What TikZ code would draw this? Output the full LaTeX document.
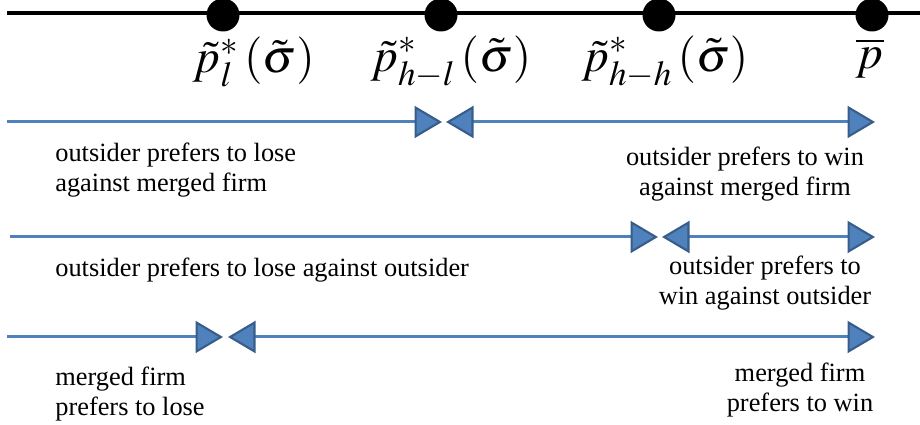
\documentclass[tikz,border=0pt]{standalone}
\usepackage{mathptmx}
\usepackage{fontspec}
\setmainfont{Liberation Serif}
\usepackage{xcolor}
\definecolor{prefblue}{RGB}{79,129,189}
\definecolor{prefdark}{RGB}{56,93,138}
\usetikzlibrary{arrows.meta}

\begin{document}
\begin{tikzpicture}[
  dot/.style={circle, fill=black, inner sep=0pt, minimum size=0.66cm},
  plabel/.style={font=\fontsize{27}{30}\selectfont, inner sep=0pt},
  pref/.style={draw=prefblue, line width=1.7pt},
  wedge/.tip={Triangle[length=0.55cm, width=0.64cm, fill=prefblue, color=prefdark, line width=1.2pt]},
  note/.style={font=\fontsize{15}{17}\selectfont, inner sep=0pt}
]
  \useasboundingbox (0,0) rectangle (18.4,8.5);

  % Price axis
  \coordinate (axisL) at (0.14,8.24);
  \coordinate (axisR) at (18.4,8.24);
  \draw[black, line width=2.3pt] (axisL) -- (axisR);
  \node[dot] (pl)  at (4.46,8.2) {};
  \node[dot] (phl) at (8.82,8.2) {};
  \node[dot] (phh) at (13.18,8.2) {};
  \node[dot] (pbar) at (17.44,8.2) {};
  \node[plabel] (lpl)  at (5.08,7.26) {$\tilde{p}^{*}_{l}\left(\tilde{\sigma}\right)$};
  \node[plabel] (lphl) at (9.02,7.26) {$\tilde{p}^{*}_{h-l}\left(\tilde{\sigma}\right)$};
  \node[plabel] (lphh) at (13.3,7.26) {$\tilde{p}^{*}_{h-h}\left(\tilde{\sigma}\right)$};
  \node[plabel] (lpbar) at (17.4,7.34) {$\overline{p}$};

  % --- Row 1: outsider vs merged firm ---
  \coordinate (r1s) at (0.14,6.06);
  \coordinate (r1m) at (8.84,6.06);
  \coordinate (r1n) at (8.92,6.06);
  \coordinate (r1e) at (17.5,6.06);
  \draw[pref, -wedge] (r1s) -- (r1m);
  \draw[pref, wedge-wedge] (r1n) -- (r1e);
  \node[note, anchor=west, align=left] (r1lose) at (1.1,5.1)
       {outsider prefers to lose\\against merged firm};
  \node[note, align=center] (r1win) at (14.9,5.02)
       {outsider prefers to win\\against merged firm};

  % --- Row 2: outsider vs outsider ---
  \coordinate (r2s) at (0.2,3.76);
  \coordinate (r2m) at (13.16,3.76);
  \coordinate (r2n) at (13.24,3.76);
  \coordinate (r2e) at (17.5,3.76);
  \draw[pref, -wedge] (r2s) -- (r2m);
  \draw[pref, wedge-wedge] (r2n) -- (r2e);
  \node[note, anchor=west] (r2lose) at (1.1,3.1)
       {outsider prefers to lose against outsider};
  \node[note, align=center] (r2win) at (15.3,2.84)
       {outsider prefers to\\win against outsider};

  % --- Row 3: merged firm ---
  \coordinate (r3s) at (0.14,1.76);
  \coordinate (r3m) at (4.46,1.76);
  \coordinate (r3n) at (4.56,1.76);
  \coordinate (r3e) at (17.5,1.76);
  \draw[pref, -wedge] (r3s) -- (r3m);
  \draw[pref, wedge-wedge] (r3n) -- (r3e);
  \node[note, anchor=west, align=left] (r3lose) at (1.1,0.62)
       {merged firm\\prefers to lose};
  \node[note, align=center] (r3win) at (16.0,0.7)
       {merged firm\\prefers to win};
\end{tikzpicture}
\end{document}
